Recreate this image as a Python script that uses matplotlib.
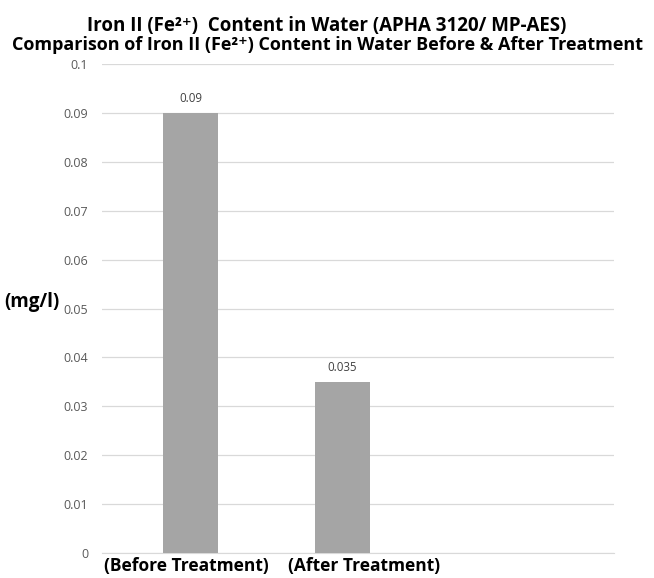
import matplotlib.pyplot as plt
from matplotlib.transforms import ScaledTranslation

plt.rcParams["font.family"] = ["Open Sans", "DejaVu Sans"]

categories = ["(Before Treatment)", "(After Treatment)"]
values = [0.09, 0.035]
value_labels = ["0.09", "0.035"]
yticks = [0, 0.01, 0.02, 0.03, 0.04, 0.05, 0.06, 0.07, 0.08, 0.09, 0.1]
ytick_labels = ["0", "0.01", "0.02", "0.03", "0.04", "0.05", "0.06", "0.07", "0.08", "0.09", "0.1"]

fig = plt.figure(figsize=(6.54, 5.78), dpi=100)
ax = fig.add_axes([0.156, 0.0433, 0.783, 0.8457])

x = range(len(categories))
bars = ax.bar(x, values, width=0.36, color="#a5a5a5", zorder=3)
for b, lab in zip(bars, value_labels):
    ax.annotate(lab, (b.get_x() + b.get_width() / 2, b.get_height()),
                xytext=(0, 6), textcoords="offset points",
                ha="center", va="bottom", fontsize=8.3, color="#404040")

ax.set_xlim(-0.582, 2.786)
ax.set_ylim(0, 0.1)
ax.set_yticks(yticks)
ax.set_yticklabels(ytick_labels, fontsize=9, color="#595959")
ax.set_xticks(list(x))
ax.set_xticklabels(categories, fontsize=12.5, fontweight="bold", color="black")
ax.tick_params(axis="y", length=0, pad=10)
ax.tick_params(axis="x", length=0, pad=3)
ax.yaxis.grid(True, color="#d9d9d9", linewidth=0.9, zorder=0)
for s in ["top", "right", "left"]:
    ax.spines[s].set_visible(False)
ax.spines["bottom"].set_color("#d9d9d9")

# labels in the original are not exactly centred under the bars
for lbl, dx in zip(ax.get_xticklabels(), [-4, 22]):
    lbl.set_transform(lbl.get_transform() + ScaledTranslation(dx / 100, 0, fig.dpi_scale_trans))

fig.text(0.007, 0.478, "(mg/l)", fontsize=13.5, fontweight="bold", ha="left", va="center")
fig.text(0.5, 0.955, "Iron II (Fe²⁺)  Content in Water (APHA 3120/ MP-AES)",
         fontsize=13.5, fontweight="bold", ha="center", va="center")
fig.text(0.5, 0.922, "Comparison of Iron II (Fe²⁺) Content in Water Before & After Treatment",
         fontsize=13, fontweight="bold", ha="center", va="center")

fig.savefig("out.png", dpi=100, facecolor="white")
